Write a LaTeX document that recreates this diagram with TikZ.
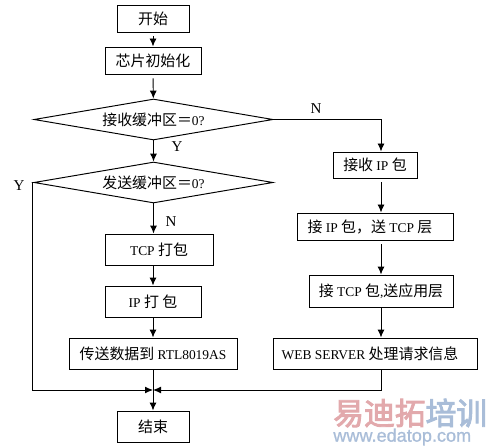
\documentclass[tikz,border=0pt]{standalone}
\usepackage{fontspec}
\usepackage{xcolor}
\usepackage{tikz}
\usetikzlibrary{arrows.meta,shapes.geometric}
\setmainfont[Scale=0.9]{Liberation Serif}
\newfontfamily\cjk{Noto Sans CJK SC}
\newfontfamily\cjkbold[FakeBold=3]{Noto Sans CJK SC}
\newfontfamily\wmfont[FakeBold=1]{Liberation Sans}
\newcommand{\cn}[1]{{\cjk #1}}
\definecolor{WMRed}{HTML}{E2A9AC}
\definecolor{WMBlue}{HTML}{A9BDD8}
\tikzset{
  flowbox/.style={draw,line width=0.55pt,inner sep=0pt,font=\fontsize{8.5}{10}\selectfont},
  decision/.style={draw,diamond,aspect=5.83,line width=0.55pt,inner sep=0pt,minimum width=4.78cm,minimum height=0.82cm,font=\fontsize{8.5}{10}\selectfont},
  flowarrow/.style={line width=0.55pt,-{Latex[length=1.6mm,width=1.4mm]}},
  flowlabel/.style={font=\fontsize{9.5}{10}\selectfont}
}
\begin{document}
\begin{tikzpicture}[x=1cm,y=1cm]
\path[use as bounding box] (0,0) rectangle (9.72,8.94);
\node[flowbox,minimum width=1.44cm,minimum height=0.54cm] (start) at (3.06,8.57) {\cn{开始}};
\node[flowbox,minimum width=1.92cm,minimum height=0.54cm] (init) at (3.06,7.73) {\cn{芯片初始化}};
\node[decision] (rxzero) at (3.07,6.55) {\cn{接收缓冲区＝}0?};
\node[decision] (txzero) at (3.07,5.29) {\cn{发送缓冲区＝}0?};
\node[flowbox,minimum width=2.16cm,minimum height=0.62cm] (tcppack) at (3.18,3.95) {TCP \cn{打包}};
\node[flowbox,minimum width=1.92cm,minimum height=0.62cm] (ippack) at (3.06,2.91) {IP \cn{打} \cn{包}};
\node[flowbox,minimum width=3.36cm,minimum height=0.62cm] (send) at (3.06,1.87) {\cn{传送数据到} RTL8019AS};
\node[flowbox,minimum width=1.44cm,minimum height=0.62cm] (stop) at (3.06,0.41) {\cn{结束}};
\node[flowbox,minimum width=1.68cm,minimum height=0.52cm] (recvip) at (7.50,5.64) {\cn{接收} IP \cn{包}};
\node[flowbox,minimum width=3.12cm,minimum height=0.54cm] (getip) at (7.50,4.41) {\cn{接} IP \cn{包，送} TCP \cn{层}\hspace*{0.2cm}};
\node[flowbox,minimum width=2.88cm,minimum height=0.64cm] (gettcp) at (7.62,3.12) {\cn{接} TCP \cn{包},\cn{送应用层}};
\node[flowbox,minimum width=4.08cm,minimum height=0.62cm] (web) at (7.50,1.87) {WEB SERVER \cn{处理请求信息}\hspace*{0.2cm}};
\coordinate (join) at (3.06,1.14);
% connectors
\draw[flowarrow,shorten <=0.08cm] (start) -- (init);
\draw[flowarrow,shorten <=0.08cm] (init) -- (rxzero);
\draw[flowarrow] (rxzero) -- (txzero);
\draw[flowarrow] (rxzero.east) -| (gettcp.north |- recvip.north);
\draw[flowarrow] (txzero.south) -- (txzero.south |- tcppack.north);
\draw[flowarrow] (ippack.north |- tcppack.south) -- (ippack.north);
\draw[flowarrow] (ippack) -- (send);
\draw[flowarrow] (send) -- (stop);
\draw[flowarrow,shorten <=0.08cm] (gettcp.north |- recvip.south) -- (gettcp.north |- getip.north);
\draw[flowarrow,shorten <=0.08cm] (gettcp.north |- getip.south) -- (gettcp.north);
\draw[flowarrow] (gettcp.south) -- (gettcp.south |- web.north);
\draw[flowarrow] (txzero.west) -- ++(-0.02,0) |- (join);
\draw[flowarrow] (gettcp.south |- web.south) |- (join);
% labels
\node[flowlabel] (labn) at (6.32,6.76) {N};
\node[flowlabel] (laby) at (3.54,6.0) {Y};
\node[flowlabel] (labyy) at (0.38,5.22) {Y};
\node[flowlabel] (labnn) at (3.42,4.5) {N};
% watermark
\node[anchor=west,inner sep=0pt,font=\fontsize{17.5}{18}\selectfont] (wmcn) at (6.66,0.68) {\cjkbold\textcolor{WMRed}{易迪拓}\textcolor{WMBlue}{培训}};
\node[anchor=west,inner sep=0pt,font=\fontsize{10.3}{10}\selectfont,text=WMBlue] (wmurl) at (6.66,0.2) {\wmfont www.edatop.com};
\end{tikzpicture}
\end{document}
